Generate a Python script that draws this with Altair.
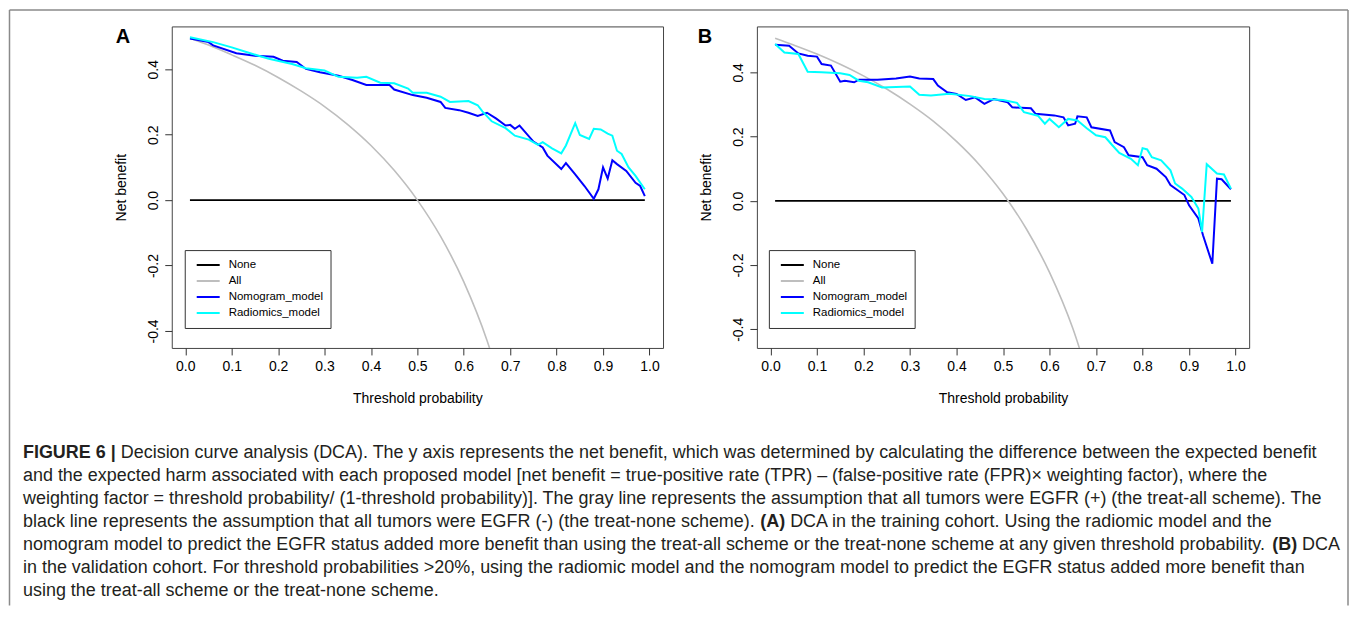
import altair as alt
import pandas as pd

# ---------------- data ----------------
series_names = ["None", "All", "Nomogram_model", "Radiomics_model"]
series_colors = ["#000000", "#BEBEBE", "#0000FF", "#00FFFF"]

x_ticks = [0.0, 0.1, 0.2, 0.3, 0.4, 0.5, 0.6, 0.7, 0.8, 0.9, 1.0]
y_ticks = [-0.4, -0.2, 0.0, 0.2, 0.4]

none_x = [0.01, 0.99]
none_y = [0.0, 0.0]

all_x = [0.01, 0.05, 0.10, 0.15, 0.20, 0.25, 0.30, 0.35, 0.40, 0.45, 0.50, 0.55, 0.60, 0.65, 0.70]
a_all_y = [0.495, 0.474, 0.444, 0.412, 0.375, 0.333, 0.286, 0.231, 0.167, 0.091, 0.000, -0.111, -0.250, -0.429, -0.667]
b_all_y = [0.506, 0.485, 0.457, 0.425, 0.389, 0.348, 0.301, 0.248, 0.185, 0.111, 0.022, -0.087, -0.223, -0.397, -0.630]

a_nom_x = [0.01, 0.05, 0.06, 0.11, 0.15, 0.19, 0.21, 0.24, 0.26, 0.29, 0.33, 0.36, 0.39, 0.44, 0.45,
           0.49, 0.52, 0.55, 0.56, 0.59, 0.61, 0.63, 0.65, 0.67, 0.69, 0.70, 0.71, 0.72, 0.75, 0.77,
           0.78, 0.81, 0.82, 0.84, 0.86, 0.88, 0.89, 0.90, 0.91, 0.92, 0.93, 0.95, 0.97, 0.98, 0.99]
a_nom_y = [0.494, 0.483, 0.473, 0.449, 0.441, 0.438, 0.426, 0.422, 0.401, 0.391, 0.380, 0.367, 0.352, 0.352, 0.338,
           0.321, 0.313, 0.300, 0.282, 0.275, 0.267, 0.257, 0.267, 0.249, 0.228, 0.230, 0.218, 0.228, 0.179, 0.161,
           0.136, 0.095, 0.113, 0.079, 0.043, 0.004, 0.033, 0.100, 0.066, 0.122, 0.110, 0.089, 0.053, 0.043, 0.012]

a_rad_x = [0.01, 0.06, 0.10, 0.14, 0.18, 0.23, 0.26, 0.30, 0.33, 0.37, 0.39, 0.42, 0.45, 0.48, 0.49,
           0.52, 0.55, 0.57, 0.61, 0.63, 0.64, 0.66, 0.69, 0.71, 0.74, 0.76, 0.77, 0.79, 0.81, 0.82,
           0.84, 0.85, 0.87, 0.88, 0.895, 0.91, 0.92, 0.93, 0.94, 0.955, 0.97, 0.99]
a_rad_y = [0.498, 0.483, 0.467, 0.449, 0.432, 0.416, 0.403, 0.396, 0.377, 0.374, 0.377, 0.359, 0.357, 0.341, 0.328,
           0.328, 0.316, 0.300, 0.303, 0.290, 0.271, 0.241, 0.220, 0.197, 0.185, 0.169, 0.177, 0.158, 0.143, 0.167,
           0.235, 0.199, 0.187, 0.218, 0.216, 0.203, 0.197, 0.151, 0.141, 0.100, 0.074, 0.033]

b_nom_x = [0.01, 0.04, 0.06, 0.08, 0.10, 0.11, 0.13, 0.15, 0.16, 0.18, 0.19, 0.23, 0.27, 0.30, 0.32,
           0.35, 0.36, 0.38, 0.40, 0.42, 0.44, 0.46, 0.48, 0.51, 0.52, 0.56, 0.57, 0.61, 0.63, 0.64,
           0.655, 0.66, 0.68, 0.69, 0.73, 0.74, 0.76, 0.77, 0.80, 0.81, 0.83, 0.85, 0.86, 0.89, 0.90,
           0.92, 0.93, 0.95, 0.96, 0.97, 0.99]
b_nom_y = [0.486, 0.483, 0.459, 0.452, 0.449, 0.426, 0.421, 0.371, 0.374, 0.369, 0.377, 0.377, 0.381, 0.387, 0.381,
           0.379, 0.359, 0.338, 0.333, 0.314, 0.322, 0.302, 0.317, 0.307, 0.291, 0.288, 0.271, 0.266, 0.260, 0.235,
           0.240, 0.263, 0.260, 0.229, 0.219, 0.183, 0.167, 0.142, 0.136, 0.111, 0.100, 0.074, 0.049, 0.018, -0.014,
           -0.055, -0.107, -0.196, 0.069, 0.067, 0.036]

b_rad_x = [0.01, 0.03, 0.06, 0.08, 0.11, 0.15, 0.17, 0.19, 0.21, 0.24, 0.30, 0.32, 0.345, 0.385, 0.43,
           0.46, 0.50, 0.53, 0.545, 0.575, 0.59, 0.60, 0.62, 0.64, 0.66, 0.68, 0.70, 0.72, 0.735, 0.75,
           0.775, 0.79, 0.80, 0.81, 0.82, 0.84, 0.86, 0.87, 0.885, 0.905, 0.92, 0.928, 0.938, 0.96, 0.975, 0.99]
b_rad_y = [0.488, 0.462, 0.457, 0.402, 0.400, 0.397, 0.392, 0.374, 0.369, 0.353, 0.356, 0.330, 0.328, 0.333, 0.326,
           0.317, 0.314, 0.305, 0.276, 0.265, 0.240, 0.255, 0.229, 0.255, 0.250, 0.226, 0.204, 0.198, 0.173, 0.149,
           0.131, 0.111, 0.164, 0.160, 0.136, 0.126, 0.095, 0.054, 0.038, 0.012, -0.024, -0.097, 0.114, 0.085, 0.082,
           0.038]

caption_lines = [
    [("FIGURE 6 |", True), (" Decision curve analysis (DCA). The y axis represents the net benefit, which was determined by calculating the difference between the expected benefit", False)],
    [("and the expected harm associated with each proposed model [net benefit = true-positive rate (TPR) \u2013 (false-positive rate (FPR)\u00d7 weighting factor), where the", False)],
    [("weighting factor = threshold probability/ (1-threshold probability)]. The gray line represents the assumption that all tumors were EGFR (+) (the treat-all scheme). The", False)],
    [("black line represents the assumption that all tumors were EGFR (-) (the treat-none scheme). ", False), ("(A)", True), (" DCA in the training cohort. Using the radiomic model and the", False)],
    [("nomogram model to predict the EGFR status added more benefit than using the treat-all scheme or the treat-none scheme at any given threshold probability. ", False), ("(B)", True), (" DCA", False)],
    [("in the validation cohort. For threshold probabilities >20%, using the radiomic model and the nomogram model to predict the EGFR status added more benefit than", False)],
    [("using the treat-all scheme or the treat-none scheme.", False)],
]

# ---------------- layout ----------------
FONT = "Liberation Sans"
PA_LEFT, PA_TOP = 171, 24          # page position of panel A plot area
PB_LEFT = 757
PANEL_H = 322
PA_W, PB_W = 492, 493
X_DOM = [-0.0292, 1.0292]

# Liberation Sans (Arial-metric) advance widths, 1/1000 em
REG = {" ": 278, "(": 333, ")": 333, ".": 278, ",": 278, "-": 333, "/": 278, "[": 278, "]": 278,
       "=": 584, ">": 584, "%": 889, "+": 584, "|": 260, "\u2013": 556, "\u00d7": 584, ":": 278}
for c in "0123456789":
    REG[c] = 556
REG.update({"A": 667, "B": 667, "C": 722, "D": 722, "E": 667, "F": 611, "G": 778, "H": 722, "I": 278,
            "J": 500, "K": 667, "L": 556, "M": 833, "N": 722, "O": 778, "P": 667, "Q": 778, "R": 722,
            "S": 667, "T": 611, "U": 722, "V": 667, "W": 944, "X": 667, "Y": 667, "Z": 611,
            "a": 556, "b": 556, "c": 500, "d": 556, "e": 556, "f": 278, "g": 556, "h": 556, "i": 222,
            "j": 222, "k": 500, "l": 222, "m": 833, "n": 556, "o": 556, "p": 556, "q": 556, "r": 333,
            "s": 500, "t": 278, "u": 556, "v": 500, "w": 722, "x": 500, "y": 500, "z": 500})
BOLD = dict(REG)
BOLD.update({"A": 722, "B": 722, "F": 611, "I": 278, "G": 778, "U": 722, "R": 722, "E": 667, "|": 280})


def text_w(s, bold, size):
    table = BOLD if bold else REG
    return sum(table.get(c, 556) for c in s) * size / 1000.0


CAP_LEFT = 22
line5_em = sum(text_w(s, b, 1000) for s, b in caption_lines[4]) / 1000.0
CAP_SIZE = (1341 - CAP_LEFT) / line5_em
CAP_Y0, CAP_DY = 451, 23

fmt_expr = "datum.value < 0 ? '-' + format(-datum.value, '.1f') : format(datum.value, '.1f')"


def panel(letter, all_y, nom_x, nom_y, rad_x, rad_y, ydom, width, left, legend_x, extra=None):
    xenc = alt.X("x:Q", scale=alt.Scale(domain=X_DOM, nice=False, zero=False),
                 axis=alt.Axis(values=x_ticks, labelExpr=fmt_expr, title="Threshold probability",
                               domain=False, grid=False, tickSize=7, tickColor="#333",
                               labelFontSize=14, labelColor="#000", labelPadding=5,
                               titleFontSize=14, titleFontWeight="normal", titleColor="#000",
                               titleX=width / 2, titleY=51, titleBaseline="middle", titleAlign="center"))
    yenc = alt.Y("y:Q", scale=alt.Scale(domain=ydom, nice=False, zero=False),
                 axis=alt.Axis(values=y_ticks, labelExpr=fmt_expr, title="Net benefit",
                               domain=False, grid=False, tickSize=7, tickColor="#333",
                               labelFontSize=14, labelColor="#000", labelAngle=270,
                               labelAlign="center", labelBaseline="bottom", labelPadding=4,
                               titleFontSize=14, titleFontWeight="normal", titleColor="#000",
                               titleAngle=270, titleX=-50, titleY=PANEL_H / 2,
                               titleBaseline="middle", titleAlign="center"))
    color = alt.Color("series:N", scale=alt.Scale(domain=series_names, range=series_colors),
                      legend=alt.Legend(title=None, orient="none", legendX=legend_x, legendY=224,
                                        symbolType="stroke", symbolStrokeWidth=2, symbolSize=529,
                                        clipHeight=16, rowPadding=0,
                                        labelFont=FONT, labelFontSize=11.5, labelColor="#000",
                                        padding=7, symbolOffset=4, labelOffset=8,
                                        strokeColor="#333", fillColor="white"))
    layers = []
    for name, xs, ys, w, interp in [
        ("None", none_x, none_y, 1.6, "linear"),
        ("All", all_x, all_y, 1.6, "monotone"),
        ("Nomogram_model", nom_x, nom_y, 2.0, "linear"),
        ("Radiomics_model", rad_x, rad_y, 2.0, "linear"),
    ]:
        df = pd.DataFrame({"x": xs, "y": ys, "series": name})
        layers.append(alt.Chart(df).mark_line(strokeWidth=w, clip=True, interpolate=interp)
                      .encode(x=xenc, y=yenc, color=color))
    lab = alt.Chart(pd.DataFrame({"t": [letter]})).mark_text(
        font=FONT, fontSize=20, fontWeight="bold", align="center", baseline="middle", color="#000"
    ).encode(x=alt.value(left[0]), y=alt.value(left[1]), text="t:N")
    layers.append(lab)
    if extra:
        layers.extend(extra)
    return alt.layer(*layers).properties(width=width, height=PANEL_H)


# caption and outer frame, drawn as overlays attached to panel A
extra = []
for i, segs in enumerate(caption_lines):
    xc = CAP_LEFT
    yc = CAP_Y0 + CAP_DY * i
    for s, b in segs:
        lead = len(s) - len(s.lstrip(" "))
        xc += text_w(" " * lead, b, CAP_SIZE)
        body = s.strip(" ")
        extra.append(alt.Chart(pd.DataFrame({"t": [body]})).mark_text(
            font=FONT, fontSize=CAP_SIZE, fontWeight="bold" if b else "normal",
            align="left", baseline="middle", color="#231f20"
        ).encode(x=alt.value(xc - PA_LEFT), y=alt.value(yc - PA_TOP), text="t:N"))
        xc += text_w(body, b, CAP_SIZE)
        trail = len(s) - len(s.rstrip(" "))
        xc += text_w(" " * trail, b, CAP_SIZE)

frame_df = pd.DataFrame({"k": [0]})
FR_L, FR_T, FR_R, FR_B = 8.5, 7.5, 1349, 604
for (x1, y1, x2, y2) in [(FR_L, FR_T, FR_R, FR_T), (FR_L, FR_T, FR_L, FR_B), (FR_R, FR_T, FR_R, FR_B)]:
    extra.append(alt.Chart(frame_df).mark_rule(color="#8a8a8a", strokeWidth=1.5).encode(
        x=alt.value(x1 - PA_LEFT), y=alt.value(y1 - PA_TOP),
        x2=alt.value(x2 - PA_LEFT), y2=alt.value(y2 - PA_TOP)))

panel_a = panel("A", a_all_y, a_nom_x, a_nom_y, a_rad_x, a_rad_y, [-0.452, 0.531], PA_W,
                (122 - PA_LEFT, 35 - PA_TOP), 13, extra)
panel_b = panel("B", b_all_y, b_nom_x, b_nom_y, b_rad_x, b_rad_y, [-0.458, 0.543], PB_W,
                (705 - PB_LEFT, 35 - PA_TOP), 12)

chart = alt.hconcat(panel_a, panel_b, spacing=PB_LEFT - PA_LEFT - PA_W, bounds="flush").resolve_scale(
    color="independent", x="independent", y="independent"
).resolve_legend(color="independent").properties(
    padding=0, background="white"
).configure(font=FONT).configure_view(stroke="#444", strokeWidth=1)

chart.save("out.html", embed_options={"renderer": "svg", "actions": False})
